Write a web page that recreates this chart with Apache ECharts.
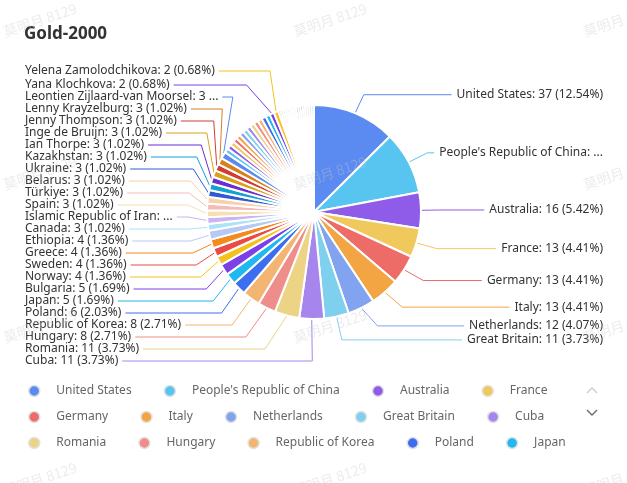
<!DOCTYPE html>
<html><head><meta charset="utf-8">
<script src="https://cdn.jsdelivr.net/npm/echarts@6/dist/echarts.min.js"></script>
<style>html,body{margin:0;padding:0;background:#fff}#c{width:627px;height:483px}</style>
</head><body><div id="c"></div>
<script>
const titleText = 'Gold-2000';
const names = [
  'United States', "People's Republic of China", 'Australia', 'France', 'Germany', 'Italy',
  'Netherlands', 'Great Britain', 'Cuba', 'Romania', 'Hungary', 'Republic of Korea',
  'Poland', 'Japan', 'Bulgaria', 'Norway', 'Sweden', 'Greece',
  'Ethiopia', 'Canada', 'Islamic Republic of Iran', 'Spain', 'Türkiye', 'Belarus',
  'Ukraine', 'Kazakhstan', 'Ian Thorpe', 'Inge de Bruijn', 'Jenny Thompson', 'Lenny Krayzelburg',
  'Leontien Zijlaard-van Moorsel',
  'Czechia', 'Kenya', 'Denmark', 'Finland', 'Austria', 'Lithuania', 'Azerbaijan', 'Slovenia',
  'Alexei Nemov', 'Brooke Bennett', 'Gary Hall Jr.', 'Pieter van den Hoogenband', 'Xiong Ni',
  'Yana Klochkova', 'Yelena Zamolodchikova',
  'Switzerland', 'Indonesia', 'Slovakia', 'Mexico', 'Algeria', 'Uzbekistan', 'Latvia', 'Serbia',
  'Bahamas', 'New Zealand', 'Estonia', 'Thailand', 'Croatia', 'Cameroon', 'Colombia', 'Mozambique'
];
const values = [
  37, 28, 16, 13, 13, 13,
  12, 11, 11, 11, 8, 8,
  6, 5, 5, 4, 4, 4,
  4, 3, 3, 3, 3, 3,
  3, 3, 3, 3, 3, 3,
  3,
  2, 2, 2, 2, 2, 2, 2, 2,
  2, 2, 2, 2, 2,
  2, 2,
  1, 1, 1, 1, 1, 1, 1, 1,
  1, 1, 1, 1, 1, 1, 1, 1
];
const labelledNames = names.slice(0, 31).concat(['Yana Klochkova', 'Yelena Zamolodchikova']);
const legendRows = [names.slice(0, 4), names.slice(4, 9), names.slice(9, 14)];
const total = values.reduce((a, b) => a + b, 0);

const palette = [
  '#5B8AF0', '#57C5EF', '#8E5CE8', '#F0C95C', '#EE6C67', '#F3A443',
  '#82A3EF', '#7FD0EE', '#A685EC', '#ECD386', '#EE8D89', '#F3B572',
  '#3E6EF0', '#1FB8F0', '#7B40E6', '#F4C21F', '#EA4B44', '#F48A1B',
  '#B6C8F6', '#AEE2F4', '#CAB4F4', '#F4E1AD', '#F4BAB8', '#F6D1A9',
  '#2F5CD3', '#159FD3', '#6B2CD0', '#D9A216', '#CF3D36', '#D8811C'
];

// ---- layout constants ----
const W = 627;
const CX = 315, CY = 212, R = 107, LEN = 20, LEN2_LEFT = 8, LEN2_RIGHT = 4, DIST = 5, EDGE = 24;
const BOX_TOP = 64, BOX_BOTTOM = 114;
const font = "'Noto Sans', sans-serif";
const labelFont = "12px 'Noto Sans', sans-serif";

const chart = echarts.init(document.getElementById('c'), null, {renderer: 'canvas'});

// text measuring for label truncation (same as zrender's truncate)
const mctx = document.createElement('canvas').getContext('2d');
mctx.font = labelFont;
const mw = s => mctx.measureText(s).width;
function shownWidth(text, avail) {
  const full = mw(text);
  if (full <= avail) return full;
  const ell = mw('...');
  let k = text.length;
  while (k > 0 && mw(text.slice(0, k)) > avail - ell) k--;
  return mw(text.slice(0, k)) + ell;
}

// natural angle of every slice (clockwise from 12 o'clock), same as the pie scale
const midAngle = [];
(function () { let acc = 0; values.forEach(v => { const a = v / total * 2 * Math.PI; midAngle.push(acc + a / 2); acc += a; }); })();

// two-pass label line shaping: elbows of shifted label lines follow an ellipse
const labelY = {};
let ellipse = null;
function labelLayoutFn(p) {
  const pts = p.labelLinePoints;
  if (!pts) return {};
  const i = p.dataIndex;
  const y = pts[2][1];
  if (!ellipse) { labelY[i] = y; return {}; }
  const dir = Math.sin(midAngle[i]) < 0 ? -1 : 1;
  const sem = ellipse[(dir < 0 ? 'L' : 'R') + (y < CY ? 'T' : 'B')];
  const rA = R + LEN;
  const dy = Math.abs(y - CY);
  const dxNew = sem ? Math.sqrt(Math.max(0, 1 - dy * dy / (sem * sem))) * rA : Math.abs(Math.sin(midAngle[i])) * rA;
  const elbowX = CX + dir * dxNew;
  const avail = dir < 0 ? elbowX - LEN2_LEFT - DIST - EDGE : W - EDGE - (elbowX + LEN2_RIGHT) - DIST;
  const full = mw(p.text);
  const sw = shownWidth(p.text, avail);
  const endX = dir < 0 ? EDGE + sw + DIST : W - EDGE - sw - DIST;
  return {labelLinePoints: [pts[0], [elbowX, y], [endX, y]], width: full <= avail ? Math.ceil(full) + 2 : avail};
}
function buildEllipse() {
  const groups = {};
  Object.keys(labelY).forEach(k => {
    const i = +k, y = labelY[k];
    const dir = Math.sin(midAngle[i]) < 0 ? -1 : 1;
    const key = (dir < 0 ? 'L' : 'R') + (y < CY ? 'T' : 'B');
    const dy = Math.abs(y - CY);
    const dx = (R + LEN) * Math.sin(midAngle[i]);
    if (!groups[key] || dy > groups[key].dy) groups[key] = {dy: dy, dx: dx};
  });
  const res = {};
  const rA = R + LEN;
  Object.keys(groups).forEach(key => {
    const g = groups[key];
    res[key] = Math.abs(g.dx) < rA ? Math.sqrt(g.dy * g.dy / (1 - g.dx * g.dx / rA / rA)) : rA;
  });
  return res;
}

const wmX = [40, 330, 620];
const wmY = [20, 173, 326, 479];
const watermark = [];
wmY.forEach(y => wmX.forEach(x => watermark.push({
  type: 'text', x: x, y: y, rotation: 0.32, z: 100, silent: true,
  style: {text: '莫明月 8129', fill: 'rgba(200,200,200,0.35)', font: "14px 'Noto Sans CJK SC', sans-serif", align: 'center', verticalAlign: 'middle'}
})));

const rowTops = [379, 405, 431];
const option = {
  animation: false,
  color: palette,
  title: {text: titleText, left: 19, top: 21, textStyle: {fontSize: 17, fontWeight: 'bold', color: '#333', fontFamily: font}},
  legend: legendRows.map((row, k) => ({
    data: row, left: 23, top: rowTops[k],
    icon: 'circle', itemWidth: 34, itemHeight: 11, itemGap: 32,
    itemStyle: {borderColor: '#e2e2e2', borderWidth: 1.5},
    textStyle: {color: '#666', fontSize: 12, fontFamily: font, lineHeight: 14}
  })),
  graphic: watermark.concat([
    {type: 'polyline', shape: {points: [[587, 393], [592, 388], [597, 393]]}, style: {stroke: '#ccc', lineWidth: 1.3, fill: null}, silent: true},
    {type: 'polyline', shape: {points: [[587, 410], [592, 415], [597, 410]]}, style: {stroke: '#666', lineWidth: 1.3, fill: null}, silent: true}
  ]),
  series: [{
    type: 'pie',
    left: 1, right: 0, top: BOX_TOP, bottom: BOX_BOTTOM,
    center: ['50%', CY - BOX_TOP],
    radius: R,
    startAngle: 90,
    clockwise: true,
    itemStyle: {borderColor: '#fff', borderWidth: 2},
    label: {
      formatter: p => p.name + ': ' + p.value + ' (' + (p.value / total * 100).toFixed(2) + '%)',
      fontSize: 12, lineHeight: 12, fontFamily: font,
      alignTo: 'edge', edgeDistance: EDGE, distanceToLabelLine: DIST
    },
    labelLine: {length: LEN, length2: LEN2_LEFT, lineStyle: {width: 1}},
    labelLayout: labelLayoutFn,
    emphasis: {disabled: true},
    data: names.map((n, i) => ({name: n, value: values[i], label: {show: labelledNames.indexOf(n) >= 0}, labelLine: {show: labelledNames.indexOf(n) >= 0}}))
  }]
};
chart.setOption(option);
ellipse = buildEllipse();
chart.setOption(option, true);
</script></body></html>
